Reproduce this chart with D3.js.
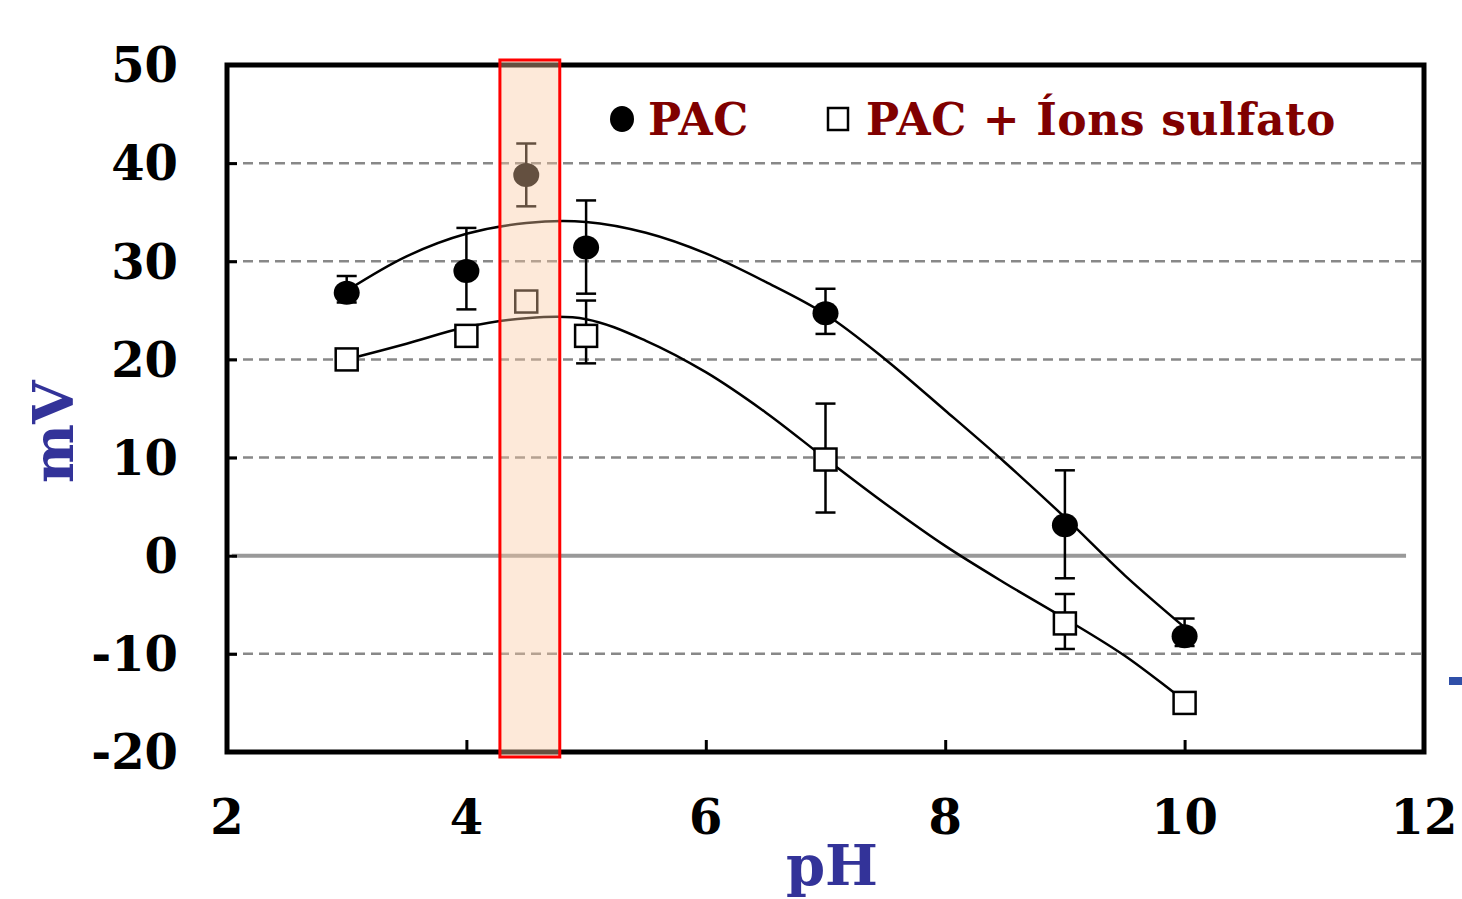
<!DOCTYPE html>
<html>
<head>
<meta charset="utf-8">
<script src="https://cdn.jsdelivr.net/npm/d3@7"></script>
<style>
  body { margin: 0; background: #fff; }
  svg { display: block; }
  text { font-family: "DejaVu Serif", serif; font-weight: bold; }
</style>
</head>
<body>
<div id="chart"></div>
<script>
// measured points (pH vs zeta potential, mV)
var phPoints = [3, 4, 4.5, 5, 7, 9, 10];
var pacValues = [26.8, 29.0, 38.8, 31.4, 24.7, 3.1, -8.2];
var pacLow = [25.8, 25.1, 35.6, 26.7, 22.6, -2.3, -9.2];
var pacHigh = [28.5, 33.4, 42.0, 36.2, 27.2, 8.7, -6.4];
var sulfValues = [20.0, 22.4, 25.9, 22.4, 9.8, -6.9, -15.0];
var sulfLow = [null, null, null, 19.6, 4.4, -9.5, null];
var sulfHigh = [null, null, null, 26.0, 15.5, -3.9, null];

// trend lines
var fitPh = [3, 3.5, 4, 4.5, 5, 5.5, 6, 6.5, 7, 7.5, 8, 8.5, 9, 9.5, 10];
var pacFit = [27.0, 30.5, 32.8, 33.9, 34.0, 32.9, 30.8, 27.9, 24.6, 20.0, 14.8, 9.5, 3.9, -2.0, -7.3];
var sulfFit = [20.0, 21.6, 23.3, 24.2, 24.1, 21.9, 18.7, 14.6, 9.9, 5.3, 1.0, -2.8, -6.4, -10.2, -14.8];

var xTicks = [2, 4, 6, 8, 10, 12];
var yTicks = [50, 40, 30, 20, 10, 0, -10, -20];
var highlight = [4.28, 4.78];
var seriesNames = ["PAC", "PAC + Íons sulfato"];

var width = 1462, height = 899;
var margin = { left: 227, top: 65, right: 38, bottom: 147 };

var svg = d3.select("#chart").append("svg")
    .attr("width", width)
    .attr("height", height);

var x = d3.scaleLinear().domain([2, 12]).range([margin.left, width - margin.right]);
var y = d3.scaleLinear().domain([-20, 50]).range([height - margin.bottom, margin.top]);

// dashed gridlines
svg.append("g").selectAll("line")
    .data(yTicks.filter(function (d) { return d > -20 && d < 50 && d !== 0; }))
    .enter().append("line")
    .attr("x1", x(2)).attr("x2", x(12))
    .attr("y1", function (d) { return y(d); })
    .attr("y2", function (d) { return y(d); })
    .attr("stroke", "#888")
    .attr("stroke-width", 2.5)
    .attr("stroke-dasharray", "10,6");

// zero line
svg.append("line")
    .attr("x1", x(2.04)).attr("x2", x(11.85))
    .attr("y1", y(0)).attr("y2", y(0))
    .attr("stroke", "#999")
    .attr("stroke-width", 4);

// axes (ticks pointing inward)
var yAxis = d3.axisRight(y).tickValues(yTicks).tickSize(10).tickFormat("");
svg.append("g")
    .attr("transform", "translate(" + x(2) + ",0)")
    .call(yAxis)
    .call(function (g) { g.select(".domain").remove(); })
    .selectAll("line").attr("stroke", "#000").attr("stroke-width", 3);

var xAxis = d3.axisTop(x).tickValues(xTicks).tickSize(12).tickFormat("");
svg.append("g")
    .attr("transform", "translate(0," + y(-20) + ")")
    .call(xAxis)
    .call(function (g) { g.select(".domain").remove(); })
    .selectAll("line").attr("stroke", "#000").attr("stroke-width", 3);

// frame
svg.append("rect")
    .attr("x", x(2)).attr("y", y(50))
    .attr("width", x(12) - x(2))
    .attr("height", y(-20) - y(50))
    .attr("fill", "none")
    .attr("stroke", "#000")
    .attr("stroke-width", 5);

// tick labels
svg.append("g").selectAll("text")
    .data(yTicks).enter().append("text")
    .attr("x", 178)
    .attr("y", function (d) { return y(d); })
    .attr("dy", "0.36em")
    .attr("text-anchor", "end")
    .attr("font-size", 48)
    .text(function (d) { return d; });

svg.append("g").selectAll("text")
    .data(xTicks).enter().append("text")
    .attr("x", function (d) { return x(d); })
    .attr("y", 834)
    .attr("text-anchor", "middle")
    .attr("font-size", 48)
    .text(function (d) { return d; });

// axis titles
svg.append("text")
    .attr("x", 832).attr("y", 885)
    .attr("text-anchor", "middle")
    .attr("font-size", 56)
    .attr("fill", "#333399")
    .text("pH");

svg.append("text")
    .attr("transform", "translate(73,432) rotate(-90)")
    .attr("text-anchor", "middle")
    .attr("font-size", 56)
    .attr("fill", "#333399")
    .text("mV");

// trend curves
var line = d3.line()
    .x(function (d) { return x(d[0]); })
    .y(function (d) { return y(d[1]); })
    .curve(d3.curveCatmullRom.alpha(0.5));

[pacFit, sulfFit].forEach(function (vals) {
    svg.append("path")
        .datum(fitPh.map(function (p, i) { return [p, vals[i]]; }))
        .attr("d", line)
        .attr("fill", "none")
        .attr("stroke", "#000")
        .attr("stroke-width", 2.5);
});

// error bars
function errorBars(lo, hi) {
    var rows = phPoints.map(function (p, i) { return { p: p, lo: lo[i], hi: hi[i] }; })
        .filter(function (d) { return d.lo !== null; });
    var g = svg.append("g").attr("stroke", "#000").attr("stroke-width", 2.5);
    g.selectAll(".v").data(rows).enter().append("line")
        .attr("x1", function (d) { return x(d.p); })
        .attr("x2", function (d) { return x(d.p); })
        .attr("y1", function (d) { return y(d.lo); })
        .attr("y2", function (d) { return y(d.hi); });
    ["lo", "hi"].forEach(function (k) {
        g.selectAll(".c" + k).data(rows).enter().append("line")
            .attr("x1", function (d) { return x(d.p) - 10; })
            .attr("x2", function (d) { return x(d.p) + 10; })
            .attr("y1", function (d) { return y(d[k]); })
            .attr("y2", function (d) { return y(d[k]); });
    });
}
errorBars(pacLow, pacHigh);
errorBars(sulfLow, sulfHigh);

// markers
svg.append("g").selectAll("rect")
    .data(phPoints).enter().append("rect")
    .attr("x", function (d) { return x(d) - 11; })
    .attr("y", function (d, i) { return y(sulfValues[i]) - 11; })
    .attr("width", 22).attr("height", 22)
    .attr("fill", "#fff")
    .attr("stroke", "#000")
    .attr("stroke-width", 2.5);

svg.append("g").selectAll("ellipse")
    .data(phPoints).enter().append("ellipse")
    .attr("cx", function (d) { return x(d); })
    .attr("cy", function (d, i) { return y(pacValues[i]); })
    .attr("rx", 13).attr("ry", 12)
    .attr("fill", "#000");

// highlighted pH range
svg.append("rect")
    .attr("x", x(highlight[0]))
    .attr("y", y(50) - 5)
    .attr("width", x(highlight[1]) - x(highlight[0]))
    .attr("height", y(-20) - y(50) + 10)
    .attr("fill", "rgb(250,200,160)")
    .attr("fill-opacity", 0.4)
    .attr("stroke", "#ff0000")
    .attr("stroke-width", 3);

// legend
var legend = svg.append("g");
legend.append("ellipse")
    .attr("cx", 622).attr("cy", 119).attr("rx", 12).attr("ry", 13)
    .attr("fill", "#000");
legend.append("text")
    .attr("x", 648).attr("y", 135)
    .attr("font-size", 44)
    .attr("letter-spacing", 0.6)
    .attr("fill", "#800000")
    .text(seriesNames[0]);
legend.append("rect")
    .attr("x", 828).attr("y", 108).attr("width", 20).attr("height", 22)
    .attr("fill", "#fff").attr("stroke", "#000").attr("stroke-width", 2.5);
legend.append("text")
    .attr("x", 866).attr("y", 135)
    .attr("font-size", 44)
    .attr("letter-spacing", 0.6)
    .attr("fill", "#800000")
    .text(seriesNames[1]);

// cut-off mark at right edge
svg.append("rect")
    .attr("x", 1449).attr("y", 677).attr("width", 13).attr("height", 8)
    .attr("fill", "#2f4fa8");
</script>
</body>
</html>
